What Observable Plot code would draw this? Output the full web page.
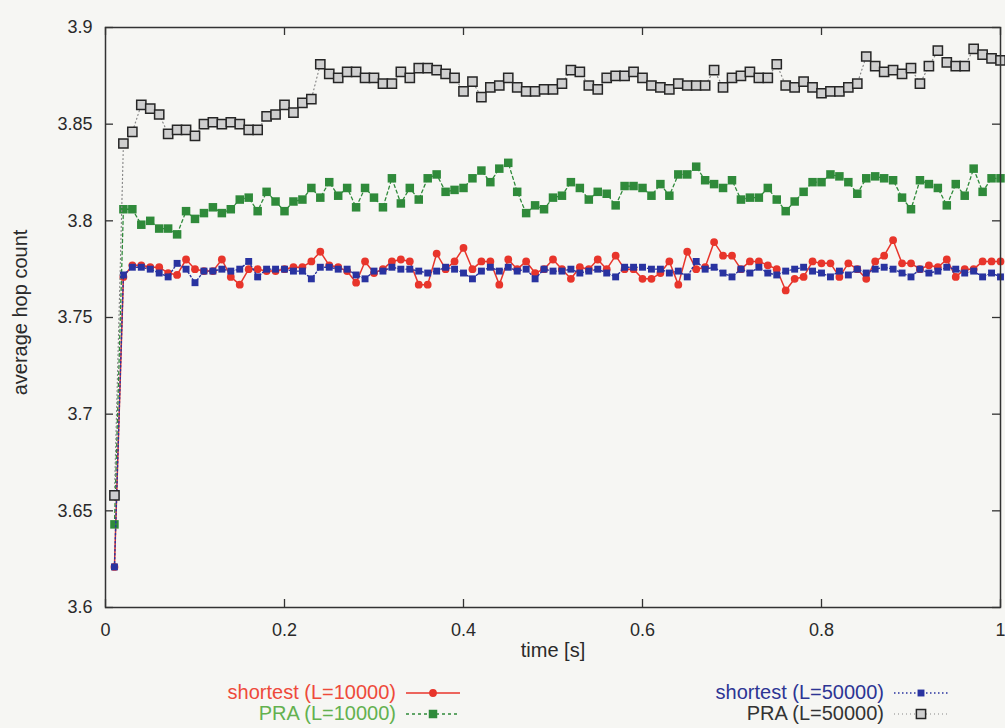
<!DOCTYPE html>
<html>
<head>
<meta charset="utf-8">
<script src="https://cdn.jsdelivr.net/npm/d3@7"></script>
<script src="https://cdn.jsdelivr.net/npm/@observablehq/plot@0.6"></script>
<style>
  html, body { margin: 0; padding: 0; background: #f6f6f3; }
  #wrap { position: relative; width: 1005px; height: 728px; overflow: hidden; font-family: "Liberation Sans", Arial, sans-serif; }
  #legend { position: absolute; left: 0; top: 670px; width: 1005px; height: 58px; }
  .item { position: absolute; display: flex; align-items: center; font-size: 20px; white-space: nowrap; }
  .item span { text-align: right; }
</style>
</head>
<body>
<div id="wrap">
  <div id="chart"></div>
  <div id="legend"></div>
</div>
<script>
// Sampling times (s): one sample every 10 ms
const times = d3.range(1, 101).map(i => i / 100);

// Average hop count, shortest-path routing, L = 10000
const shortest10000 = [
  3.621, 3.771, 3.777, 3.777, 3.776, 3.776, 3.773, 3.772, 3.780, 3.775,
  3.774, 3.774, 3.780, 3.771, 3.767, 3.775, 3.775, 3.774, 3.774, 3.775,
  3.776, 3.776, 3.779, 3.784, 3.777, 3.776, 3.774, 3.768, 3.779, 3.773,
  3.775, 3.779, 3.780, 3.779, 3.767, 3.767, 3.783, 3.775, 3.779, 3.786,
  3.775, 3.779, 3.779, 3.767, 3.780, 3.775, 3.779, 3.773, 3.775, 3.780,
  3.775, 3.770, 3.776, 3.775, 3.780, 3.775, 3.782, 3.775, 3.775, 3.770,
  3.770, 3.773, 3.779, 3.767, 3.784, 3.775, 3.776, 3.789, 3.782, 3.782,
  3.775, 3.779, 3.779, 3.777, 3.775, 3.764, 3.770, 3.771, 3.779, 3.778,
  3.778, 3.771, 3.778, 3.775, 3.770, 3.779, 3.782, 3.790, 3.778, 3.778,
  3.775, 3.777, 3.776, 3.780, 3.771, 3.775, 3.775, 3.779, 3.779, 3.779
];

// Average hop count, PRA, L = 10000
const pra10000 = [
  3.643, 3.806, 3.806, 3.798, 3.800, 3.796, 3.796, 3.793, 3.805, 3.801,
  3.804, 3.807, 3.804, 3.806, 3.811, 3.812, 3.805, 3.815, 3.810, 3.805,
  3.810, 3.811, 3.817, 3.812, 3.820, 3.813, 3.817, 3.807, 3.817, 3.812,
  3.807, 3.822, 3.809, 3.817, 3.811, 3.822, 3.824, 3.815, 3.816, 3.817,
  3.822, 3.826, 3.820, 3.827, 3.830, 3.815, 3.804, 3.808, 3.806, 3.812,
  3.813, 3.820, 3.817, 3.811, 3.815, 3.814, 3.808, 3.818, 3.818, 3.817,
  3.813, 3.819, 3.813, 3.824, 3.824, 3.828, 3.821, 3.819, 3.817, 3.821,
  3.811, 3.812, 3.812, 3.817, 3.811, 3.805, 3.810, 3.815, 3.820, 3.820,
  3.824, 3.823, 3.820, 3.814, 3.822, 3.823, 3.822, 3.821, 3.812, 3.806,
  3.821, 3.819, 3.817, 3.808, 3.819, 3.813, 3.827, 3.815, 3.822, 3.822
];

// Average hop count, shortest-path routing, L = 50000
const shortest50000 = [
  3.621, 3.772, 3.776, 3.776, 3.775, 3.773, 3.771, 3.778, 3.775, 3.768,
  3.774, 3.774, 3.775, 3.774, 3.775, 3.779, 3.771, 3.775, 3.775, 3.775,
  3.774, 3.774, 3.770, 3.776, 3.776, 3.775, 3.775, 3.772, 3.770, 3.774,
  3.774, 3.776, 3.775, 3.775, 3.774, 3.773, 3.774, 3.776, 3.775, 3.773,
  3.770, 3.774, 3.776, 3.774, 3.776, 3.774, 3.775, 3.770, 3.775, 3.774,
  3.774, 3.775, 3.773, 3.774, 3.775, 3.773, 3.771, 3.776, 3.776, 3.776,
  3.775, 3.775, 3.773, 3.774, 3.771, 3.779, 3.775, 3.776, 3.773, 3.771,
  3.775, 3.773, 3.776, 3.773, 3.772, 3.774, 3.775, 3.776, 3.774, 3.773,
  3.771, 3.774, 3.772, 3.775, 3.773, 3.775, 3.776, 3.775, 3.773, 3.771,
  3.775, 3.773, 3.774, 3.776, 3.775, 3.773, 3.774, 3.771, 3.773, 3.771
];

// Average hop count, PRA, L = 50000
const pra50000 = [
  3.658, 3.840, 3.846, 3.860, 3.858, 3.855, 3.845, 3.847, 3.847, 3.844,
  3.850, 3.851, 3.850, 3.851, 3.850, 3.847, 3.847, 3.854, 3.855, 3.860,
  3.856, 3.861, 3.863, 3.881, 3.876, 3.874, 3.877, 3.877, 3.874, 3.874,
  3.871, 3.871, 3.877, 3.874, 3.879, 3.879, 3.878, 3.876, 3.874, 3.867,
  3.872, 3.864, 3.869, 3.870, 3.874, 3.869, 3.867, 3.867, 3.868, 3.868,
  3.871, 3.878, 3.877, 3.870, 3.868, 3.874, 3.875, 3.875, 3.877, 3.874,
  3.870, 3.869, 3.868, 3.871, 3.870, 3.870, 3.870, 3.878, 3.869, 3.874,
  3.875, 3.877, 3.874, 3.874, 3.881, 3.870, 3.869, 3.872, 3.869, 3.866,
  3.867, 3.867, 3.869, 3.871, 3.885, 3.880, 3.877, 3.878, 3.876, 3.879,
  3.871, 3.880, 3.888, 3.882, 3.880, 3.880, 3.889, 3.886, 3.884, 3.883
];

const seriesNames = ["shortest (L=10000)", "PRA (L=10000)", "shortest (L=50000)", "PRA (L=50000)"];
const xTicks = [0, 0.2, 0.4, 0.6, 0.8, 1];
const yTicks = [3.6, 3.65, 3.7, 3.75, 3.8, 3.85, 3.9];

// Drawing style for each series (gnuplot-like line/point types)
const styles = {
  "shortest (L=10000)": {color: "#e8352b", text: "#ee4a3a", dash: null, width: 1.5, symbol: "circle", r: 3.9, fill: "#e8352b", stroke: "none"},
  "PRA (L=10000)":      {color: "#2f8a3a", text: "#63b14f", dash: "3,3", width: 1.3, symbol: "square", r: 4.8, fill: "#2f8a3a", stroke: "none"},
  "shortest (L=50000)": {color: "#2933a0", text: "#2d3594", dash: "1.5,2.5", width: 1.4, symbol: "square", r: 3.9, fill: "#2933a0", stroke: "none"},
  "PRA (L=50000)":      {color: "#888888", text: "#333333", dash: "1,3", width: 1.2, symbol: "square", r: 5.2, fill: "#cfcfcf", stroke: "#262626"}
};

const valuesByName = {
  "shortest (L=10000)": shortest10000,
  "PRA (L=10000)": pra10000,
  "shortest (L=50000)": shortest50000,
  "PRA (L=50000)": pra50000
};

const rows = seriesNames.map(name => times.map((t, i) => ({t, v: valuesByName[name][i], name})));

const W = 1005, H = 670, ML = 105, MR = 5, MT = 27, MB = 63;
const frameW = W - ML - MR, frameH = H - MT - MB;
const tickLen = 8;

const seriesMarks = rows.flatMap(data => {
  const s = styles[data[0].name];
  return [
    Plot.line(data, {x: "t", y: "v", stroke: s.color, strokeWidth: s.width, strokeDasharray: s.dash}),
    Plot.dot(data, {x: "t", y: "v", symbol: s.symbol, r: s.r, fill: s.fill, stroke: s.stroke, strokeWidth: 1.5})
  ];
});

const chart = Plot.plot({
  width: W, height: H,
  marginLeft: ML, marginRight: MR, marginTop: MT, marginBottom: MB,
  x: {domain: [0, 1]},
  y: {domain: [3.6, 3.9]},
  style: {background: "transparent", fontFamily: "'Liberation Sans', Arial, sans-serif", fontSize: "18px", color: "#2a2a2a", overflow: "visible"},
  marks: [
    Plot.axisX(xTicks, {tickSize: 0, tickPadding: 16, tickFormat: d3.format("~g"), label: null, fontSize: 18}),
    Plot.axisY(yTicks, {tickSize: 0, tickPadding: 13, tickFormat: d3.format("~g"), label: null, fontSize: 18}),
    // inward ticks on all four sides
    Plot.tickX(xTicks, {x: d => d, insetTop: frameH - tickLen, stroke: "#333", strokeWidth: 1.3}),
    Plot.tickX(xTicks, {x: d => d, insetBottom: frameH - tickLen, stroke: "#333", strokeWidth: 1.3}),
    Plot.tickY(yTicks, {y: d => d, insetRight: frameW - tickLen, stroke: "#333", strokeWidth: 1.3}),
    Plot.tickY(yTicks, {y: d => d, insetLeft: frameW - tickLen, stroke: "#333", strokeWidth: 1.3}),
    ...seriesMarks,
    Plot.frame({stroke: "#333", strokeWidth: 1.5}),
    Plot.text(["time [s]"], {frameAnchor: "bottom", dy: 49, fontSize: 20, fill: "#2a2a2a"}),
    Plot.text(["average hop count"], {frameAnchor: "left", textAnchor: "middle", dx: -85, dy: -5, rotate: -90, fontSize: 20, fill: "#2a2a2a"})
  ]
});
document.getElementById("chart").appendChild(chart);

// Legend below the plot, gnuplot style: label then line sample with point
const legendPos = {
  "shortest (L=10000)": {right: 400, top: 22},
  "PRA (L=10000)":      {right: 400, top: 43},
  "shortest (L=50000)": {right: 888, top: 22},
  "PRA (L=50000)":      {right: 888, top: 43}
};
const legend = d3.select("#legend");
for (const name of seriesNames) {
  const s = styles[name], p = legendPos[name];
  const item = legend.append("div").attr("class", "item")
    .style("right", (W - p.right - 62) + "px")
    .style("top", (p.top - 11) + "px");
  item.append("span").style("color", s.text).text(name);
  const svg = item.append("svg").attr("width", 58).attr("height", 22).style("margin-left", "8px");
  svg.append("line").attr("x1", 2).attr("x2", 56).attr("y1", 11).attr("y2", 11)
    .attr("stroke", s.color).attr("stroke-width", s.width).attr("stroke-dasharray", s.dash);
  const sym = d3.symbol(s.symbol === "circle" ? d3.symbolCircle : d3.symbolSquare, Math.PI * s.r * s.r);
  svg.append("path").attr("d", sym()).attr("transform", "translate(29,11)")
    .attr("fill", s.fill).attr("stroke", s.stroke === "none" ? null : s.stroke).attr("stroke-width", 1.5);
}
</script>
</body>
</html>
